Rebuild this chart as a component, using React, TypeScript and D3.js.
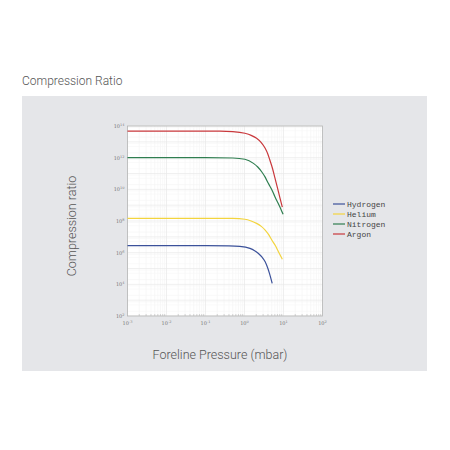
import { useEffect, useRef } from 'react'
import * as d3 from 'd3'

// log10 of foreline pressure (mbar) and log10 of compression ratio
const H2_X = [-3, -1, -0.4, -0.12, 0.14, 0.25, 0.35, 0.45, 0.53, 0.6, 0.64, 0.71]
const H2_Y = [6.44, 6.44, 6.43, 6.40, 6.27, 6.14, 5.96, 5.72, 5.43, 5.0, 4.69, 4.06]
const HE_X = [-3, -1, -0.3, 0.01, 0.17, 0.31, 0.43, 0.53, 0.62, 0.70, 0.79, 0.87, 0.97]
const HE_Y = [8.17, 8.17, 8.16, 8.11, 8.0, 7.85, 7.66, 7.43, 7.14, 6.80, 6.45, 6.06, 5.58]
const N2_X = [-3, -1, -0.3, 0.01, 0.23, 0.34, 0.44, 0.53, 0.61, 0.70, 0.78, 0.89, 0.99]
const N2_Y = [12.0, 12.0, 11.98, 11.9, 11.64, 11.41, 11.11, 10.77, 10.38, 9.98, 9.53, 8.98, 8.42]
const AR_X = [-3, -0.63, -0.3, 0.01, 0.17, 0.31, 0.43, 0.53, 0.60, 0.65, 0.72, 0.78, 0.85, 0.91, 0.97]
const AR_Y = [13.68, 13.68, 13.65, 13.54, 13.41, 13.22, 12.95, 12.59, 12.22, 11.85, 11.3, 10.72, 10.05, 9.45, 8.88]

const SERIES = [
  { name: 'Hydrogen', color: '#3b519a', xs: H2_X, ys: H2_Y },
  { name: 'Helium', color: '#f3d43e', xs: HE_X, ys: HE_Y },
  { name: 'Nitrogen', color: '#2f7e50', xs: N2_X, ys: N2_Y },
  { name: 'Argon', color: '#c9383c', xs: AR_X, ys: AR_Y },
]

const X_TICKS = [-3, -2, -1, 0, 1, 2]
const Y_TICKS = [2, 4, 6, 8, 10, 12, 14]

const PLOT = { left: 127.5, right: 322.5, top: 126, bottom: 316 }

export default function App() {
  const svgRef = useRef<SVGSVGElement>(null)

  useEffect(() => {
    const svgEl = svgRef.current
    if (!svgEl) return
    const root = d3.select(svgEl)
    root.selectAll('*').remove()

    root.append('rect')
      .attr('x', 0).attr('y', 0).attr('width', 450).attr('height', 450).attr('fill', '#fff')

    root.append('text')
      .attr('x', 22).attr('y', 85)
      .attr('font-family', 'Roboto').attr('font-weight', 300).attr('font-size', 12).attr('fill', '#555')
      .text('Compression Ratio')

    // grey panel
    root.append('rect')
      .attr('x', 22).attr('y', 96).attr('width', 405).attr('height', 275)
      .attr('fill', '#e5e6e9')

    const x = d3.scaleLinear().domain([-3, 2]).range([PLOT.left, PLOT.right])
    const y = d3.scaleLinear().domain([2, 14]).range([PLOT.bottom, PLOT.top])

    const g = root.append('g')
    g.append('rect')
      .attr('x', PLOT.left).attr('y', PLOT.top)
      .attr('width', PLOT.right - PLOT.left).attr('height', PLOT.bottom - PLOT.top)
      .attr('fill', '#fff')

    // minor grid (log)
    const minorX: number[] = []
    for (let d = -3; d < 2; d++) for (let m = 2; m <= 9; m++) minorX.push(d + Math.log10(m))
    g.selectAll('.mx').data(minorX).join('line')
      .attr('x1', v => x(v)).attr('x2', v => x(v))
      .attr('y1', PLOT.top).attr('y2', PLOT.bottom)
      .attr('stroke', '#f3f3f3').attr('stroke-width', 0.6)
    const minorY: number[] = []
    for (let d = 2; d < 14; d++) for (let m = 2; m <= 9; m += 3) minorY.push(d + Math.log10(m))
    g.selectAll('.my').data(minorY).join('line')
      .attr('y1', v => y(v)).attr('y2', v => y(v))
      .attr('x1', PLOT.left).attr('x2', PLOT.right)
      .attr('stroke', '#f5f5f5').attr('stroke-width', 0.6)

    g.selectAll('.gx').data(X_TICKS).join('line')
      .attr('x1', v => x(v)).attr('x2', v => x(v))
      .attr('y1', PLOT.top).attr('y2', PLOT.bottom)
      .attr('stroke', '#e8e8e8').attr('stroke-width', 0.7)
    g.selectAll('.gy').data(d3.range(2, 15)).join('line')
      .attr('y1', v => y(v)).attr('y2', v => y(v))
      .attr('x1', PLOT.left).attr('x2', PLOT.right)
      .attr('stroke', '#eaeaea').attr('stroke-width', 0.7)

    // minor ticks on the frame
    g.selectAll('.tx').data(minorX).join('line')
      .attr('x1', v => x(v)).attr('x2', v => x(v))
      .attr('y1', PLOT.bottom).attr('y2', PLOT.bottom - 2)
      .attr('stroke', '#bbb').attr('stroke-width', 0.6)

    g.append('rect')
      .attr('x', PLOT.left).attr('y', PLOT.top)
      .attr('width', PLOT.right - PLOT.left).attr('height', PLOT.bottom - PLOT.top)
      .attr('fill', 'none').attr('stroke', '#b5b5b5').attr('stroke-width', 0.8)

    // tick labels 10^n
    const xl = g.selectAll('.xl').data(X_TICKS).join('text')
      .attr('x', v => x(v)).attr('y', PLOT.bottom + 9)
      .attr('text-anchor', 'middle')
      .attr('font-family', 'DejaVu Serif').attr('font-size', 5).attr('fill', '#777')
    xl.append('tspan').text('10')
    xl.append('tspan').attr('dy', -2).attr('font-size', 3.5).text(v => String(v))

    const yl = g.selectAll('.yl').data(Y_TICKS).join('text')
      .attr('x', PLOT.left - 3).attr('y', v => y(v) + 2)
      .attr('text-anchor', 'end')
      .attr('font-family', 'DejaVu Serif').attr('font-size', 5).attr('fill', '#777')
    yl.append('tspan').text('10')
    yl.append('tspan').attr('dy', -2).attr('font-size', 3.5).text(v => String(v))

    const line = d3.line<[number, number]>()
      .x(d => x(d[0])).y(d => y(d[1]))
      .curve(d3.curveMonotoneX)

    SERIES.forEach(s => {
      const pts = s.xs.map((v, i) => [v, s.ys[i]] as [number, number])
      g.append('path')
        .attr('d', line(pts))
        .attr('fill', 'none').attr('stroke', s.color).attr('stroke-width', 1.2)
    })

    // legend
    const lg = root.append('g').attr('transform', 'translate(333,204)')
    SERIES.forEach((s, i) => {
      lg.append('line')
        .attr('x1', 0).attr('x2', 12).attr('y1', i * 10).attr('y2', i * 10)
        .attr('stroke', s.color).attr('stroke-width', 1.2)
      lg.append('text')
        .attr('x', 14).attr('y', i * 10 + 2.5)
        .attr('font-family', 'Liberation Mono').attr('font-size', 8).attr('fill', '#444')
        .text(s.name)
    })

    root.append('text')
      .attr('x', 220).attr('y', 359)
      .attr('text-anchor', 'middle')
      .attr('font-family', 'Roboto').attr('font-weight', 300).attr('font-size', 12.5).attr('fill', '#555')
      .text('Foreline Pressure (mbar)')

    root.append('text')
      .attr('transform', 'translate(76,226) rotate(-90)')
      .attr('text-anchor', 'middle')
      .attr('font-family', 'Roboto').attr('font-weight', 300).attr('font-size', 12.5).attr('fill', '#555')
      .text('Compression ratio')
  }, [])

  return (
    <svg ref={svgRef} width={450} height={450}
      style={{ position: 'absolute', left: 0, top: 0, display: 'block' }} />
  )
}
